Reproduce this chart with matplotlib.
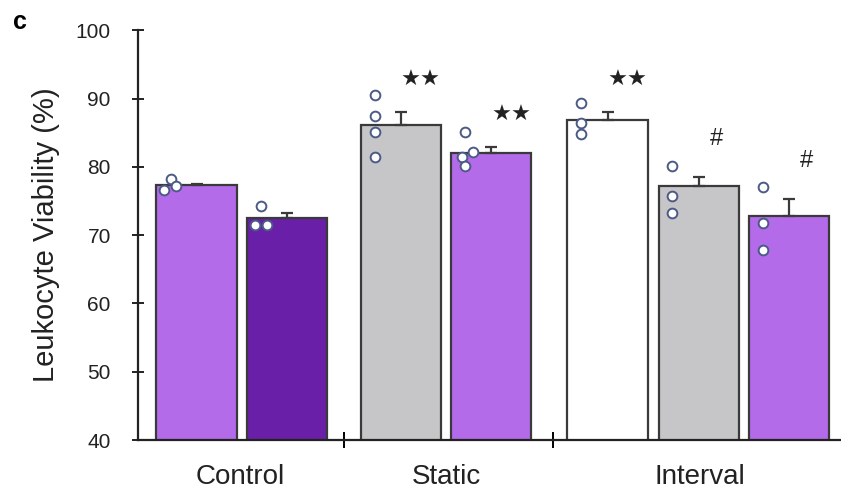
import matplotlib
matplotlib.use("Agg")
import matplotlib.pyplot as plt
import numpy as np

plt.rcParams['font.family'] = ['Liberation Sans', 'DejaVu Sans']

groups = ["Control", "Static", "Interval"]
means = [77.3, 72.5, 86.1, 82.0, 86.9, 77.2, 72.8]
errors = [0.2, 0.7, 1.9, 0.9, 1.1, 1.3, 2.5]
points = [
    [76.6, 78.2, 77.2],
    [71.5, 71.5, 74.3],
    [90.5, 87.4, 85.1, 81.4],
    [85.1, 82.2, 81.4, 80.1],
    [89.3, 86.4, 84.8],
    [80.1, 75.7, 73.2],
    [77.0, 71.8, 67.8],
]
marks = ["", "", "★★", "★★", "★★", "#", "#"]

# layout / style
xpos = [0, 1, 2.27, 3.27, 4.56, 5.57, 6.57]
jitter = [
    [-0.36, -0.28, -0.23],
    [-0.35, -0.22, -0.28],
    [-0.29, -0.29, -0.29, -0.29],
    [-0.29, -0.2, -0.33, -0.29],
    [-0.3, -0.3, -0.3],
    [-0.3, -0.3, -0.3],
    [-0.29, -0.29, -0.29],
]
colors = ["#b46bea", "#6a1fa8", "#c6c6c8", "#b46bea", "#ffffff", "#c6c6c8", "#b46bea"]
edge = "#3a3a3a"

fig = plt.figure(figsize=(8.41, 4.95), dpi=100)
ax = fig.add_axes([0.164, 0.111, 0.835, 0.828])

ax.bar(xpos, means, width=0.89, bottom=0, color=colors, edgecolor=edge, linewidth=1.6, zorder=2)
ax.errorbar(xpos, means, yerr=[np.zeros(len(errors)), errors], fmt="none",
            ecolor=edge, elinewidth=1.6, capsize=4, capthick=1.6, zorder=3)

for x, pts, jit in zip(xpos, points, jitter):
    ax.plot([x + j for j in jit], pts, "o", markersize=7, markerfacecolor="white",
            markeredgecolor="#4b5a86", markeredgewidth=1.4, zorder=4, clip_on=False)

for x, m, mean, err in zip(xpos, marks, means, errors):
    if m:
        if m == "#":
            ax.text(x + 0.2, mean + err + 5.6, m, ha="center", va="center",
                    fontsize=17, color="#222222")
        else:
            ax.text(x + 0.22, mean + err + 4.7, m, ha="center", va="center",
                    fontsize=16, color="#222222", family=["DejaVu Sans"])

ax.set_ylim(40, 100)
ax.set_xlim(-0.65, 7.14)
ax.set_yticks(range(40, 101, 10))
ax.tick_params(axis="y", direction="inout", length=9, width=1.4, labelsize=15, pad=15,
               colors="#222222")
ax.set_xticks([1.635, 3.96])
ax.set_xticklabels([])
ax.tick_params(axis="x", direction="inout", length=12, width=1.4)
for sp in ["top", "right"]:
    ax.spines[sp].set_visible(False)
for sp in ["left", "bottom"]:
    ax.spines[sp].set_linewidth(1.6)
    ax.spines[sp].set_color("#222222")

group_centers = [0.49, 2.77, 5.58]
for gx, g in zip(group_centers, groups):
    ax.text(gx, -0.09, g, transform=ax.get_xaxis_transform(), ha="center", va="center",
            fontsize=20, color="#222222")

ax.set_ylabel("Leukocyte Viability (%)", fontsize=21, labelpad=11, color="#222222")
fig.text(0.016, 0.955, "c", fontsize=18, fontweight="bold", va="center")

fig.savefig("out.png", dpi=100)
